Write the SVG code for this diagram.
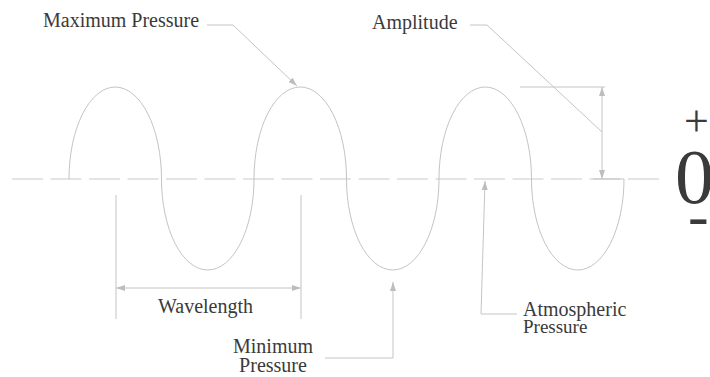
<svg xmlns="http://www.w3.org/2000/svg" width="710" height="377" viewBox="0 0 710 377">
<defs>
<style>
.ln{fill:none;stroke:#c4c4c4;stroke-width:1}
.ax{fill:none;stroke:#cacaca;stroke-width:1.2;stroke-dasharray:31 7.5}
.t{font-family:"Liberation Serif","Times New Roman",serif;font-size:20px;fill:#3a3a3a}
.big{font-family:"Liberation Serif","Times New Roman",serif;fill:#3a3a3a}
</style>
<marker id="ah" viewBox="0 0 9 6" refX="9" refY="3" markerWidth="9" markerHeight="6" markerUnits="userSpaceOnUse" orient="auto-start-reverse">
<path d="M0,0 L9,3 L0,6 z" fill="#bdbdbd"/>
</marker>
</defs>
<rect width="710" height="377" fill="#ffffff"/>
<g id="axis">
<path class="ax" d="M12,179 H662"/>
</g>
<g id="wave">
<path class="ln" d="M69,179 A46.25,92 0 0 1 161.5,179 A46.25,91 0 0 0 254,179 A46.25,92 0 0 1 346.5,179 A46.25,91 0 0 0 439,179 A46.25,92 0 0 1 531.5,179 A46.25,91 0 0 0 624,179 H593"/>
</g>
<g id="connectors">
<path class="ln" d="M207,25 H233 L297,86" marker-end="url(#ah)"/>
<path class="ln" d="M470,25 H487 L602,132"/>
<path class="ln" d="M520,87 H605"/>
<path class="ln" d="M602,87 V179" marker-start="url(#ah)" marker-end="url(#ah)"/>
<path class="ln" d="M116,195 V319 M301,195 V319"/>
<path class="ln" d="M116,288 H301" marker-start="url(#ah)" marker-end="url(#ah)"/>
<path class="ln" d="M325,358 H393 V282" marker-end="url(#ah)"/>
<path class="ln" d="M517,314 H481 L485,181" marker-end="url(#ah)"/>
</g>
<g id="label-max"><text class="t" x="43" y="27">Maximum Pressure</text></g>
<g id="label-amp"><text class="t" x="372" y="29">Amplitude</text></g>
<g id="label-wave"><text class="t" x="158" y="313">Wavelength</text></g>
<g id="label-min"><text class="t" x="273" y="353" text-anchor="middle">Minimum</text><text class="t" x="273" y="372" text-anchor="middle">Pressure</text></g>
<g id="label-atm"><text class="t" x="523" y="316" font-size="19">Atmospheric</text><text class="t" x="523" y="333" style="font-size:19px">Pressure</text></g>
<g id="scale">
<text class="big" x="684" y="136" font-size="44">+</text>
<text class="big" x="675" y="203" font-size="78">0</text>
<text class="big" x="688" y="236" font-size="62">-</text>
</g>
</svg>
